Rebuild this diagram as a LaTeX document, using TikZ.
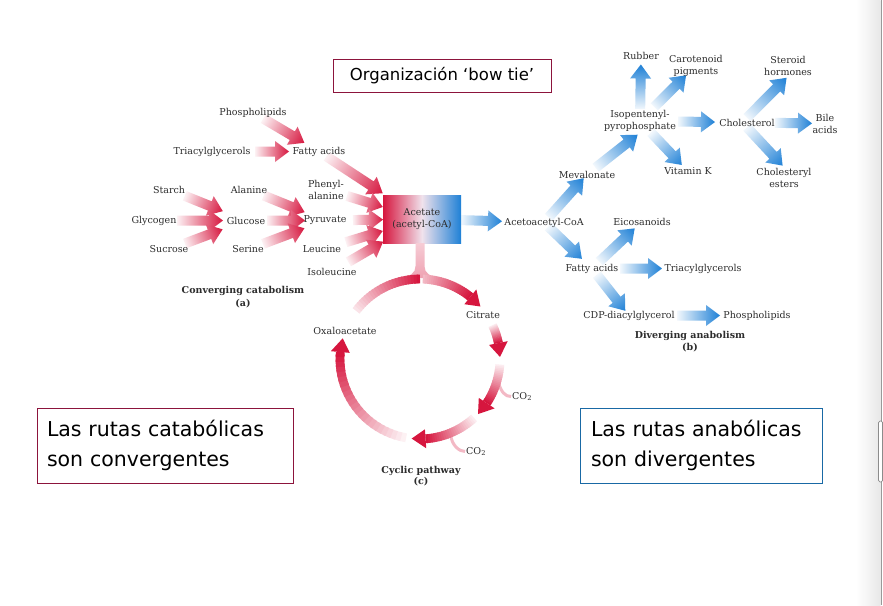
\documentclass[tikz,border=0pt]{standalone}
\usepackage{fontspec}
\setmainfont{DejaVu Serif}
\newfontfamily\sansbox{DejaVu Sans}
\usetikzlibrary{calc}
\pgfdeclarelayer{background}
\pgfsetlayers{background,main}
\definecolor{myred}{RGB}{214,22,62}
\definecolor{myblue}{RGB}{30,128,214}
\definecolor{boxmaroon}{RGB}{140,20,60}
\definecolor{boxblue}{RGB}{25,105,165}
\definecolor{txtgray}{RGB}{45,45,45}
\definecolor{midtone}{RGB}{240,226,236}

% broad shaded arrow: from, to, start gap, end gap, colour
\newcommand\farrow[5]{%
  \path (#1) coordinate (faA) (#2) coordinate (faB);%
  \pgfpointdiff{\pgfpointanchor{faA}{center}}{\pgfpointanchor{faB}{center}}%
  \pgfgetlastxy{\fdx}{\fdy}%
  \pgfmathsetmacro\fang{atan2(\fdy,\fdx)}%
  \pgfmathsetmacro\fa{#3}%
  \pgfmathsetmacro\fc{veclen(\fdx,\fdy)-#4}%
  \pgfmathsetmacro\fb{\fc-14}%
  \begin{pgfonlayer}{background}%
  \begin{scope}[transform canvas={shift={(faA)},rotate=\fang}]%
    \shade[left color=#5!6, right color=#5] (\fa pt,-5pt) -- (\fb pt,-5pt) -- (\fb pt,-10.5pt) -- (\fc pt,0pt) -- (\fb pt,10.5pt) -- (\fb pt,5pt) -- (\fa pt,5pt) -- cycle;%
  \end{scope}%
  \end{pgfonlayer}}

% shaded ring arc (clockwise): start angle, shaft end angle, start tint, head (1/0)
\newcommand\ringarc[4]{%
  \foreach \k in {0,...,23}{%
    \pgfmathsetmacro\ra{#1+(#2-#1)*\k/24}%
    \pgfmathsetmacro\rb{#1+(#2-#1)*min(\k+1.5,24)/24}%
    \pgfmathsetmacro\rt{#3+(100-#3)*\k/23}%
    \draw[line width=8.8pt, draw=myred!\rt] ($(cyc)+(\ra:80pt)$) arc[start angle=\ra, end angle=\rb, radius=80pt];%
  }%
  \ifnum#4=1
    \fill[myred] ($(cyc)+(#2:70.5pt)$) -- ($(cyc)+(#2:89.5pt)$) -- ($(cyc)+(#2-10:80pt)$) -- cycle;%
  \fi}

\begin{document}
\begin{tikzpicture}[x=1pt,y=-1pt,
  lbl/.style={text=txtgray, font=\fontsize{9.5}{12}\selectfont, inner sep=1pt, align=center, yshift=-1.5pt},
  captxt/.style={lbl, font=\bfseries\fontsize{9.5}{12}\selectfont}]
\useasboundingbox (0,0) rectangle (883,605);
\begin{pgfonlayer}{background}
\fill[white] (0,0) rectangle (883,605);
% window edge / scrollbar
\shade[left color=white, right color=black!9] (856,0) rectangle (880.5,605);
\draw[black!40, line width=1.2pt] (881.2,0) -- (881.2,605);
\draw[black!45, line width=0.7pt, rounded corners=1.5pt, fill=white] (878.5,421) rectangle (882.5,482);
\end{pgfonlayer}

% ---------- text boxes ----------
\node[draw=boxmaroon, line width=0.9pt, minimum width=218pt, minimum height=33pt, inner sep=0pt,
      font=\sansbox\fontsize{16.5}{18}\selectfont, text=black] (title) at (442,75.5) {Organización ‘bow tie’};
\node[draw=boxmaroon, line width=0.9pt, text width=236pt, inner xsep=10pt, inner ysep=0pt, minimum height=75pt,
      align=left, font=\sansbox\fontsize{20.5}{30}\selectfont, text=black] (catbox) at (165,445.5) {Las rutas catabólicas\\son convergentes};
\node[draw=boxblue, line width=0.9pt, text width=220pt, inner xsep=11pt, inner ysep=0pt, minimum height=75pt,
      align=left, font=\sansbox\fontsize{20.5}{30}\selectfont, text=black] (anabox) at (701,445.5) {Las rutas anabólicas\\son divergentes};

% ---------- converging catabolism ----------
\node[lbl] (phosL) at (253,111) {Phospholipids};
\node[lbl] (triL) at (212,150) {Triacylglycerols};
\node[lbl] (fatL) at (319,150) {Fatty acids};
\node[lbl] (starch) at (169,188) {Starch};
\node[lbl] (alanine) at (249,188) {Alanine};
\node[lbl] (phenyl) at (326,188) {Phenyl-\\alanine};
\node[lbl] (glycogen) at (154,219) {Glycogen};
\node[lbl] (glucose) at (246,219) {Glucose};
\node[lbl] (pyruvate) at (325,219) {Pyruvate};
\node[lbl] (sucrose) at (169,248) {Sucrose};
\node[lbl] (serine) at (248,248) {Serine};
\node[lbl] (leucine) at (322,248) {Leucine};
\node[lbl] (isoleucine) at (332,270) {Isoleucine};
\node[captxt] (conv) at (243,289) {Converging catabolism};
\node[captxt] (capa) at (243,302) {(a)};

\node[minimum width=78pt, minimum height=48pt, inner sep=0pt, left color=myred, right color=myblue, middle color=midtone,
      text=txtgray, align=center, font=\fontsize{9.5}{12}\selectfont] (acetate) at (422,219) {Acetate\\(acetyl-CoA)};

\farrow{phosL}{fatL}{12}{17}{myred}
\farrow{triL}{fatL}{43}{30}{myred}
\farrow{fatL}{acetate}{9}{47}{myred}
\farrow{starch}{glucose}{17}{25}{myred}
\farrow{glycogen}{glucose}{23}{23}{myred}
\farrow{sucrose}{glucose}{17}{25}{myred}
\farrow{alanine}{pyruvate}{16}{22}{myred}
\farrow{glucose}{pyruvate}{21}{20}{myred}
\farrow{serine}{pyruvate}{16}{22}{myred}
\farrow{phenyl}{acetate}{22}{41}{myred}
\farrow{pyruvate}{acetate}{28}{39}{myred}
\farrow{leucine}{acetate}{25}{41}{myred}
\farrow{isoleucine}{acetate}{19}{45}{myred}

% ---------- diverging anabolism ----------
\node[lbl] (rubber) at (641,54) {Rubber};
\node[lbl] (carot) at (696,64) {Carotenoid\\pigments};
\node[lbl] (steroid) at (788,64) {Steroid\\hormones};
\node[lbl] (isopent) at (640,119.5) {Isopentenyl-\\pyrophosphate};
\node[lbl] (chol) at (747,121) {Cholesterol};
\node[lbl] (bile) at (825,122) {Bile\\acids};
\node[lbl] (mevalonate) at (587,173) {Mevalonate};
\node[lbl] (vitk) at (688,170) {Vitamin K};
\node[lbl] (cesters) at (784,176.5) {Cholesteryl\\esters};
\node[lbl] (acetoacetyl) at (544,221) {Acetoacetyl-CoA};
\node[lbl] (eicos) at (642,220) {Eicosanoids};
\node[lbl] (fatR) at (592,267) {Fatty acids};
\node[lbl] (triR) at (703,267) {Triacylglycerols};
\node[lbl] (cdp) at (629,314) {CDP-diacylglycerol};
\node[lbl] (phosR) at (757,314) {Phospholipids};
\node[captxt] (diverg) at (690,334) {Diverging anabolism};
\node[captxt] (capb) at (690,346) {(b)};

\farrow{acetate}{acetoacetyl}{39}{42}{myblue}
\farrow{acetoacetyl}{mevalonate}{7}{5}{myblue}
\farrow{acetoacetyl}{fatR}{6}{14}{myblue}
\farrow{mevalonate}{isopent.south}{11}{3}{myblue}
\farrow{isopent}{rubber}{12}{9}{myblue}
\farrow{isopent}{carot}{20}{14}{myblue}
\farrow{isopent}{chol}{38}{32}{myblue}
\farrow{isopent}{vitk}{16}{9}{myblue}
\farrow{chol.north}{steroid.south}{0}{2}{myblue}
\farrow{chol}{bile}{28}{13}{myblue}
\farrow{chol.south}{cesters.north}{0}{2}{myblue}
\farrow{fatR}{eicos}{10}{10}{myblue}
\farrow{fatR}{triR}{28}{41}{myblue}
\farrow{fatR}{cdp}{8}{6}{myblue}
\farrow{cdp}{phosR}{48}{37}{myblue}

% ---------- cyclic pathway ----------
\coordinate (cyc) at (420,359);
\shade[top color=myred!22, bottom color=myred!40]
  ($(acetate.south)+(-6.5,0)$) -- ++(0,23) .. controls +(0,7) and +(9,-2) .. ++(-14.5,12)
  -- ++(38,0) .. controls +(-9,-2) and +(0,7) .. ++(-14.5,-12) -- ($(acetate.south)+(2.5,0)$) -- cycle;

\node[lbl] (oxalo) at (345,329) {Oxaloacetate};
\node[lbl] (citrate) at (483,314) {Citrate};
\node[lbl, anchor=west] (co2a) at (511,395) {CO\textsubscript{2}};
\node[lbl, anchor=west] (co2b) at (465,450) {CO\textsubscript{2}};
\coordinate (brA) at ($(cyc)+(-17:82pt)$);
\coordinate (brB) at ($(cyc)+(-68:82pt)$);
\draw[line width=3pt, myred!30] (brA) .. controls +(3,9) and +(-6,0) .. (co2a.west);
\draw[line width=3pt, myred!30] (brB) .. controls +(1,10) and +(-6,0) .. (co2b.west);

\ringarc{143}{90}{12}{0}
\ringarc{88}{51}{30}{1}
\ringarc{25}{11.5}{8}{1}
\ringarc{-4}{-33.5}{8}{1}
\ringarc{-47.5}{-86}{8}{1}
\ringarc{-100}{-185}{6}{1}

\node[captxt] (cyclic) at (421,469) {Cyclic pathway};
\node[captxt] (capc) at (421,480) {(c)};
\end{tikzpicture}
\end{document}
